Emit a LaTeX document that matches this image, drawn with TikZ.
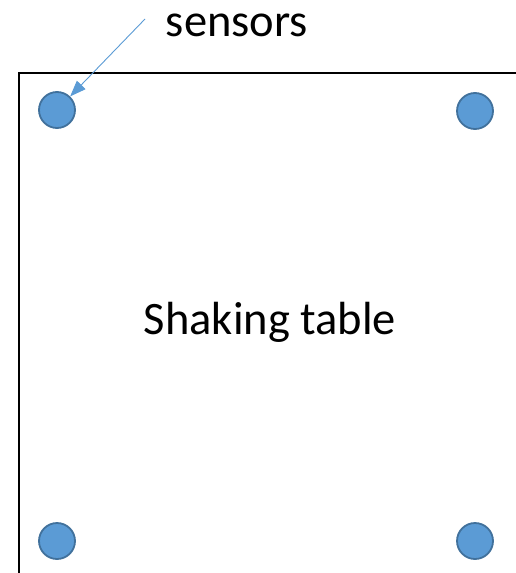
\documentclass[tikz,border=0pt]{standalone}
\usepackage{fontspec}
\setmainfont{Carlito}
\usetikzlibrary{arrows.meta}
\definecolor{sensfill}{HTML}{5B9BD5}
\definecolor{sensline}{HTML}{41719C}
\begin{document}
\begin{tikzpicture}[x=1pt,y=-1pt,
  sensor/.style={circle,draw=sensline,fill=sensfill,line width=1.8pt,minimum size=36pt,inner sep=0pt},
  tablebox/.style={draw=black,line width=2pt},
  pointer/.style={draw=sensfill,line width=0.9pt,-{Triangle[length=16pt,width=12pt]}},
  lbl/.style={font=\fontsize{46.5}{54}\selectfont,inner sep=0pt}]
\useasboundingbox (0,0) rectangle (516,573);
\clip (0,0) rectangle (516,573);
\draw[tablebox] (19,73) rectangle (530,590);
\node[sensor] (tl) at (57,110) {};
\node[sensor] (tr) at (475,111) {};
\node[sensor] (bl) at (57,541) {};
\node[sensor] (br) at (475,541) {};
\node[lbl,anchor=base] (title) at (270,334) {Shaking table};
\node[lbl,anchor=base] (sens) at (237,36) {sensors};
\coordinate (from) at (145,19);
\draw[pointer] (from) -- (tl);
\end{tikzpicture}
\end{document}
